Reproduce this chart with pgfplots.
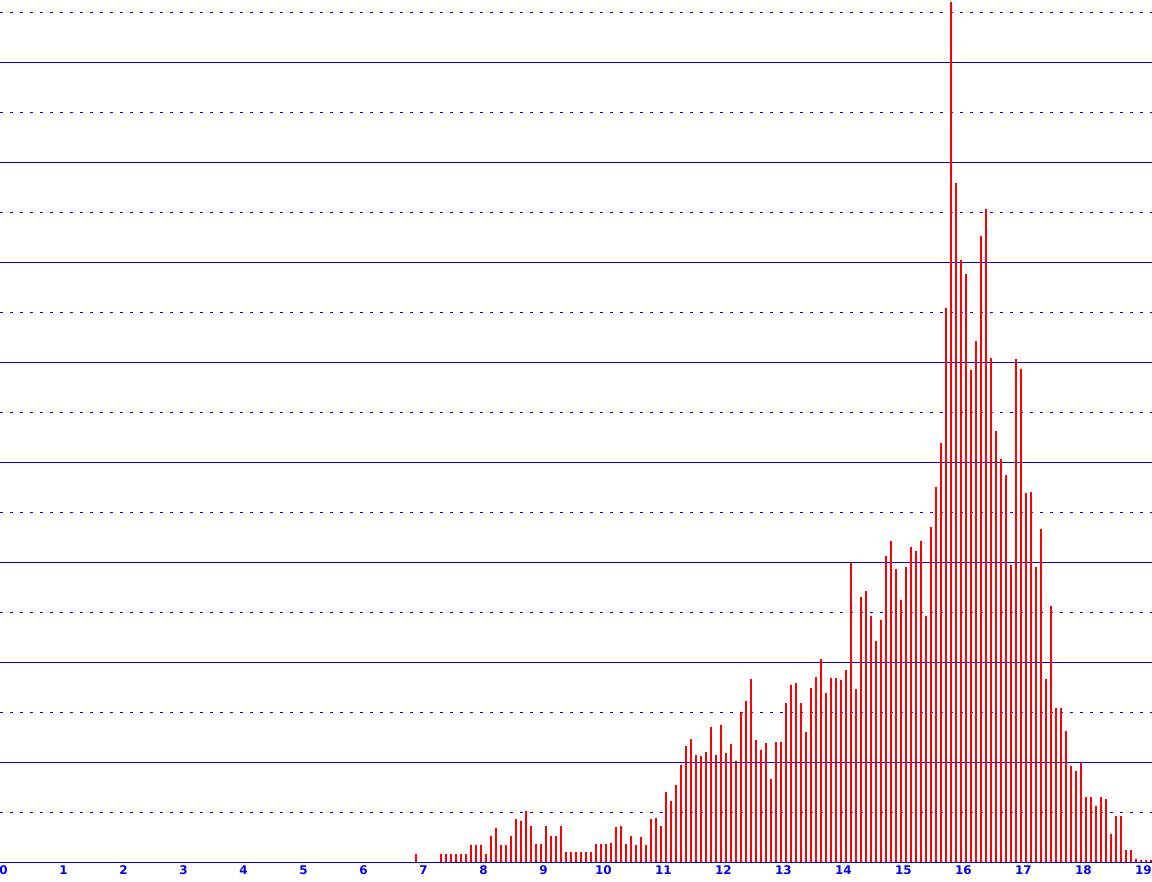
\documentclass[border=0pt]{standalone}
\usepackage{fontspec}
\setmainfont{DejaVu Sans}
\usepackage{pgfplots}
\usepackage{pgfplotstable}
\pgfplotsset{compat=1.18}
\pgfplotstableread{
k h
82 8
87 8
88 8
89 8
90 8
91 8
92 8
93 17
94 17
95 17
96 8
97 26
98 34
99 17
100 17
101 26
102 43
103 41
104 51
105 36
106 18
107 18
108 36
109 26
110 26
111 36
112 10
113 10
114 10
115 10
116 10
117 10
118 18
119 18
120 18
121 19
122 35
123 36
124 18
125 26
126 17
127 25
128 17
129 43
130 44
131 36
132 70
133 61
134 77
135 97
136 116
137 123
138 107
139 106
140 110
141 135
142 107
143 137
144 109
145 118
146 101
147 150
148 161
149 183
150 122
151 112
152 119
153 83
154 120
155 120
156 159
157 177
158 179
159 159
160 130
161 174
162 185
163 203
164 169
165 184
166 184
167 182
168 192
169 299
170 173
171 265
172 271
173 246
174 221
175 242
176 306
177 321
178 293
179 262
180 295
181 315
182 311
183 321
184 246
185 335
186 375
187 419
188 554
189 860
190 679
191 602
192 588
193 492
194 521
195 626
196 653
197 504
198 431
199 403
200 387
201 297
202 503
203 493
204 369
205 370
206 295
207 333
208 183
209 256
210 154
211 154
212 131
213 96
214 91
215 99
216 65
217 65
218 56
219 65
220 63
221 28
222 46
223 46
224 12
225 12
226 3
227 2
228 2
229 2
}\bins
\begin{document}
\begin{tikzpicture}
\begin{axis}[
  at={(0,0)}, anchor=south west,
  scale only axis,
  width=1152bp, height=862.5bp,
  xmin=-0.058333, xmax=19.141667,
  ymin=0, ymax=862.5,
  axis line style={draw=none},
  xtick={0,1,...,19},
  xticklabels={0,1,2,3,4,5,6,7,8,9,10,11,12,13,14,15,16,17,18,19},
  major tick length=0pt, minor tick length=0pt,
  tick style={draw=none},
  x tick label style={font=\fontsize{12}{12}\selectfont\bfseries, text=blue, anchor=north},
  ytick={0,100,...,800},
  minor ytick={50,150,...,850},
  yticklabels={},
  ymajorgrids, yminorgrids,
  major grid style={draw=blue, line width=1bp, solid},
  minor grid style={draw=blue, line width=1bp, dash pattern=on 3bp off 7bp},
]
\addplot[ycomb, draw=red, line width=2bp, mark=none]
  table[x expr={(\thisrow{k}+0.5)/12}, y=h] {\bins};
\addplot[draw=blue, line width=1bp, mark=none] coordinates {(-1,0) (20,0)};
\end{axis}
\pgfresetboundingbox
\path (0,-19.5bp) rectangle (1152bp,862.5bp);
\end{tikzpicture}
\end{document}
